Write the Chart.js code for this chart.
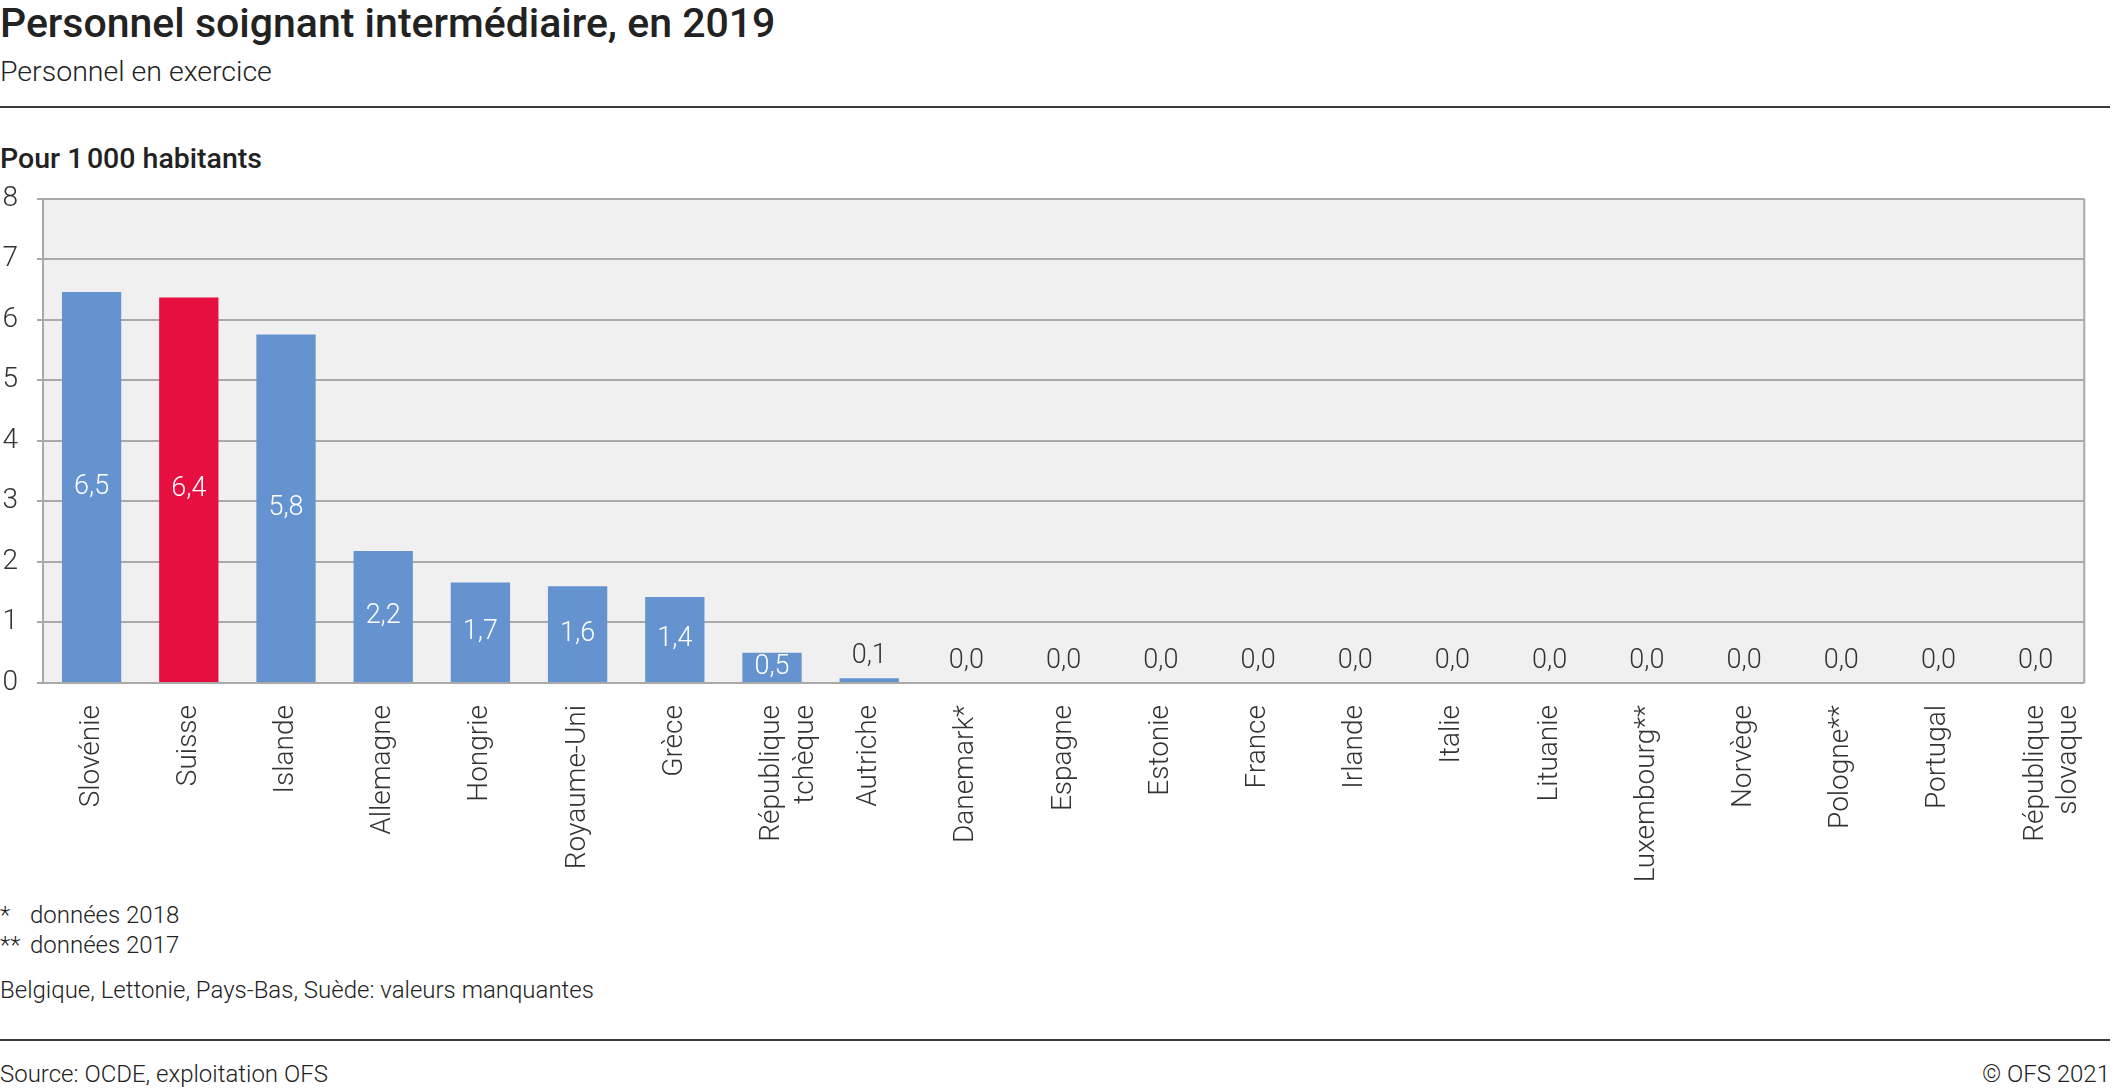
<!DOCTYPE html>
<html>
<head>
<meta charset="utf-8">
<script src="https://cdn.jsdelivr.net/npm/chart.js@4"></script>
<style>
  html, body { margin: 0; padding: 0; background: #fff; }
  body { width: 2117px; height: 1088px; position: relative; overflow: hidden; font-family: Roboto, "Noto Sans", sans-serif; color: #222; }
  .t { position: absolute; white-space: nowrap; line-height: 1; }
  .regle { position: absolute; left: 0; width: 2110px; height: 2px; background: #3a3a3a; }
  #boite { position: absolute; left: 0; top: 163px; width: 2117px; height: 737px; }
</style>
</head>
<body>
<div class="t" style="left:0;top:3px;font-size:41px;font-weight:500;">Personnel soignant intermédiaire, en 2019</div>
<div class="t" style="left:0;top:58px;font-size:28.5px;font-weight:300;">Personnel en exercice</div>
<div class="regle" style="top:106px"></div>
<div class="t" style="left:0;top:145px;font-size:28.5px;font-weight:500;">Pour 1&#8239;000 habitants</div>

<div id="boite"><canvas id="graphique"></canvas></div>

<div class="t" style="left:0;top:903px;font-size:24px;font-weight:300;">*</div>
<div class="t" style="left:30px;top:903px;font-size:24px;font-weight:300;">données 2018</div>
<div class="t" style="left:0;top:933px;font-size:24px;font-weight:300;">**</div>
<div class="t" style="left:30px;top:933px;font-size:24px;font-weight:300;">données 2017</div>
<div class="t" style="left:0;top:978px;font-size:24px;font-weight:300;">Belgique, Lettonie, Pays-Bas, Suède: valeurs manquantes</div>
<div class="regle" style="top:1039px"></div>
<div class="t" style="left:0;top:1062px;font-size:24px;font-weight:300;">Source: OCDE, exploitation OFS</div>
<div class="t" style="right:7px;top:1062px;font-size:24px;font-weight:300;">© OFS 2021</div>

<script>
const PAYS = ["Slovénie", "Suisse", "Islande", "Allemagne", "Hongrie", "Royaume-Uni", "Grèce",
  ["République", "tchèque"], "Autriche", "Danemark*", "Espagne", "Estonie", "France", "Irlande",
  "Italie", "Lituanie", "Luxembourg**", "Norvège", "Pologne**", "Portugal", ["République", "slovaque"]]
const VALEURS = [6.46, 6.37, 5.76, 2.18, 1.66, 1.6, 1.42, 0.5, 0.08, 0, 0, 0, 0, 0, 0, 0, 0, 0, 0, 0, 0]
const GRADUATIONS = [0, 1, 2, 3, 4, 5, 6, 7, 8]

const BLEU = '#6593d0'
const ROUGE = '#e60f40'
const GRILLE = '#a9a9a9'

const couleurs = PAYS.map(p => p === "Suisse" ? ROUGE : BLEU)

const fondEtCadre = {
  id: 'fondEtCadre',
  beforeDraw(chart) {
    const { ctx, chartArea: a } = chart
    ctx.save()
    ctx.fillStyle = '#f0f0f0'
    ctx.fillRect(a.left, a.top, a.right - a.left, a.bottom - a.top)
    ctx.restore()
  },
  afterDraw(chart) {
    const { ctx, chartArea: a } = chart
    ctx.save()
    ctx.strokeStyle = GRILLE
    ctx.lineWidth = 2
    ctx.beginPath()
    ctx.moveTo(a.right, a.top)
    ctx.lineTo(a.right, a.bottom)
    ctx.stroke()
    ctx.restore()
  }
}

const etiquettes = {
  id: 'etiquettes',
  afterDatasetsDraw(chart) {
    const ctx = chart.ctx
    const meta = chart.getDatasetMeta(0)
    ctx.save()
    ctx.font = '300 27px Roboto'
    ctx.textAlign = 'center'
    meta.data.forEach((barre, i) => {
      const v = VALEURS[i]
      const texte = v.toFixed(1).replace('.', ',')
      if (v >= 0.3) {
        ctx.fillStyle = '#ffffff'
        ctx.textBaseline = 'middle'
        ctx.fillText(texte, barre.x, (barre.y + barre.base) / 2)
      } else {
        ctx.fillStyle = '#333333'
        ctx.textBaseline = 'bottom'
        ctx.fillText(texte, barre.x, barre.y - 8)
      }
    })
    ctx.restore()
  }
}

new Chart(document.getElementById('graphique'), {
  type: 'bar',
  data: {
    labels: PAYS,
    datasets: [{
      data: VALEURS,
      backgroundColor: couleurs,
      barPercentage: 0.61,
      categoryPercentage: 1
    }]
  },
  options: {
    responsive: true,
    maintainAspectRatio: false,
    animation: false,
    devicePixelRatio: 1,
    layout: { padding: { top: 21, right: 6, left: 0, bottom: 0 } },
    plugins: { legend: { display: false }, tooltip: { enabled: false } },
    scales: {
      x: {
        grid: { display: false },
        border: { display: false },
        ticks: {
          color: '#333',
          font: { family: 'Roboto', size: 28, weight: 300 },
          minRotation: 90,
          maxRotation: 90,
          autoSkip: false,
          padding: 14
        },
        afterFit(scale) { scale.height = 217 }
      },
      y: {
        min: 0,
        max: 8,
        afterBuildTicks(scale) { scale.ticks = GRADUATIONS.map(v => ({ value: v })) },
        grid: { color: GRILLE, lineWidth: 2, tickLength: 6 },
        border: { color: GRILLE, width: 2 },
        ticks: {
          color: '#333',
          font: { family: 'Roboto', size: 28, weight: 300 },
          padding: 19
        },
        afterFit(scale) { scale.width = 43 }
      }
    }
  },
  plugins: [fondEtCadre, etiquettes]
})
</script>
</body>
</html>
